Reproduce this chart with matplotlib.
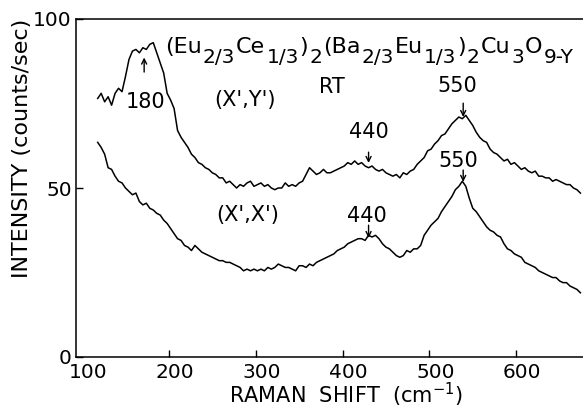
import numpy as np
import matplotlib
matplotlib.use("Agg")
import matplotlib.pyplot as plt
from matplotlib.transforms import ScaledTranslation

plt.rcParams['font.family'] = ['DejaVu Sans']
plt.rcParams['mathtext.fontset'] = 'dejavusans'

# Raman shift grid (cm^-1)
shift = np.arange(118, 675, 4)

# (X',Y') spectrum, counts/sec
xy_counts = [
    76.5, 78, 75.5, 77, 74.5, 78, 79.5, 78.5, 83, 88,
    90.5, 91, 90, 91.5, 91, 92.5, 93, 90, 87, 84,
    78, 76, 73.5, 67, 65, 63.5, 62, 60, 59, 57.5,
    57, 56, 55.5, 54.5, 54, 53, 53, 51.5, 52, 51,
    50, 51, 50.5, 51.5, 52, 50.5, 51, 51.5, 50.5, 51,
    50, 49.5, 50, 50, 51.5, 50.5, 51, 50.5, 51.5, 52,
    54, 56, 55, 54, 54.5, 55.5, 54.5, 54.5, 55, 55.5,
    56, 56.5, 57.5, 57, 58, 57, 57.5, 56.5, 56, 56.5,
    55.5, 55, 55.5, 54.5, 54, 53.5, 54, 53, 54.5, 54,
    55, 55.5, 57, 58, 59, 61, 61.5, 63, 64, 65.5,
    66, 67.5, 69, 70, 71, 70.5, 71.5, 70, 68.5, 66.5,
    65, 64, 63.5, 61.5, 60.5, 60, 59, 58, 58.5, 57,
    57.5, 56.5, 55.5, 56, 55, 54.5, 55, 53.5, 53.5, 53,
    53, 52, 52.5, 52, 51.5, 51, 51, 50, 49.5, 48.5,
]

# (X',X') spectrum, counts/sec
xx_counts = [
    63.5, 62, 60, 56, 55.5, 53.5, 52, 51.5, 50, 49,
    48, 48.5, 46, 45, 45.5, 44, 43.5, 42.5, 42, 40.5,
    39.5, 38, 36.5, 35, 34.5, 33, 32.5, 31.5, 33, 32,
    31, 30.5, 30, 29.5, 29, 28.5, 28.5, 28, 28, 27.5,
    27, 26.5, 25.5, 26, 25.5, 26, 25.5, 26, 25.5, 26.5,
    26, 26.5, 27.5, 27, 26.5, 26.5, 26, 25.5, 27, 27,
    26.5, 27.5, 27, 28, 28.5, 29, 29.5, 30, 30.5, 31.5,
    32, 32.5, 33.5, 34, 34.5, 35, 35, 34.5, 36, 35.5,
    36, 35, 33.5, 32.5, 32, 31, 30, 29.5, 30, 31.5,
    31, 32, 32, 33, 36, 37.5, 39, 40, 41, 43,
    44.5, 46, 47.5, 49.5, 50.5, 52, 50.5, 47, 44, 43,
    41.5, 40, 38.5, 37.5, 37, 36, 35.5, 33.5, 32, 31.5,
    30.5, 30, 29.5, 28, 27.5, 27, 26.5, 25.5, 25, 24.5,
    24, 23.5, 23.5, 22.5, 22, 22, 21, 20.5, 20, 19,
]

x_ticks = [100, 200, 300, 400, 500, 600]
y_ticks = [0, 50, 100]

# formula pieces: (text, is_subscript)
formula = [("(Eu", False), ("2/3", True), ("Ce", False), ("1/3", True),
           (")", False), ("2", True), ("(Ba", False), ("2/3", True),
           ("Eu", False), ("1/3", True), (")", False), ("2", True),
           ("Cu", False), ("3", True), ("O", False), ("9-Y", True)]

fig = plt.figure(figsize=(5.83, 4.08), dpi=100)
ax = fig.add_axes([76/583, 51/408, 1 - 76/583, 338/408])

ax.plot(shift, xy_counts, color='black', lw=1.1)
ax.plot(shift, xx_counts, color='black', lw=1.1)

ax.set_xlim(93, 677)
ax.set_ylim(0, 100)
ax.set_xticks(x_ticks)
ax.set_yticks(y_ticks)
ax.tick_params(direction='in', length=5, width=1, labelsize=14.5, pad=4)
ax.tick_params(axis='y', pad=3)
ax.xaxis.get_major_ticks()[0].tick1line.set_visible(False)
for lab in ax.get_xticklabels():
    lab.set_transform(lab.get_transform() + ScaledTranslation(6/100, 0, fig.dpi_scale_trans))
for s in ['left', 'bottom', 'top']:
    ax.spines[s].set_linewidth(1.1)
ax.spines['right'].set_visible(False)

ax.text(-0.106, (357 - 148) / 338, 'INTENSITY (counts/sec)', rotation=90, ha='center', va='center',
        transform=ax.transAxes, fontsize=16)
fig.text(346/583, 1 - 403/408, r'RAMAN  SHIFT  (cm$^{-1}$)', ha='center', va='baseline', fontsize=15)

# chained formula text
main_fs, sub_fs = 16, 14.5
gap = 0.7    # points between pieces
drop = 6.85  # points
prev = ax.text(195.7, 89.9, formula[0][0], ha='left', va='baseline', fontsize=main_fs)
prev_sub = formula[0][1]
for txt, is_sub in formula[1:]:
    if is_sub and not prev_sub:
        dy = -drop
    elif prev_sub and not is_sub:
        dy = drop
    else:
        dy = 0
    prev = ax.annotate(txt, xy=(1, 0), xycoords=prev, xytext=(gap, dy),
                       textcoords='offset points', ha='left', va='bottom',
                       fontsize=sub_fs if is_sub else main_fs)
    prev_sub = is_sub

fs = 15
ax.text(388, 78.1, 'RT', ha='center', va='baseline', fontsize=fs)
ax.text(288, 76, "(X',Y')", ha='center', va='center', fontsize=fs)
ax.text(291, 42, "(X',X')", ha='center', va='center', fontsize=fs)
ax.text(172.6, 73.7, '180', ha='center', va='baseline', fontsize=fs)
ax.text(430, 64.8, '440', ha='center', va='baseline', fontsize=fs)
ax.text(532, 78.4, '550', ha='center', va='baseline', fontsize=fs)
ax.text(533, 56.2, '550', ha='center', va='baseline', fontsize=fs)
ax.text(428.5, 40, '440', ha='center', va='baseline', fontsize=fs)

arrows = [(171.5, 84.3, 88.6), (430, 60.6, 57.4), (539, 75.1, 71.0),
          (539, 55.3, 51.8), (430, 39.0, 35.2)]
for x, y0, y1 in arrows:
    ax.annotate('', xy=(x, y1), xytext=(x, y0),
                arrowprops=dict(arrowstyle='->', lw=1.0, color='black',
                                shrinkA=0, shrinkB=0, mutation_scale=9))

fig.savefig('out.png', dpi=100)
